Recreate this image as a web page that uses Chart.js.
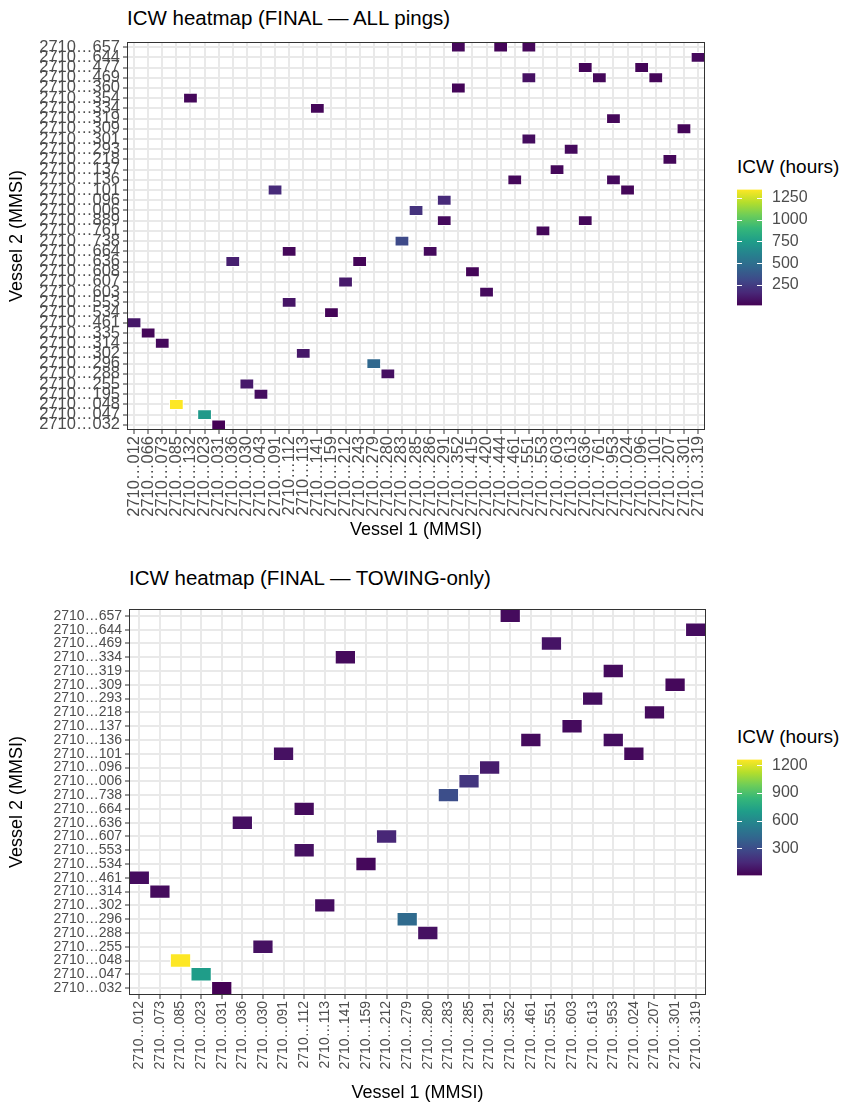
<!DOCTYPE html>
<html>
<head>
<meta charset="utf-8">
<script src="https://cdn.jsdelivr.net/npm/chart.js@4.4.1/dist/chart.umd.min.js"></script>
<style>
  html, body { margin: 0; padding: 0; background: #fff; }
  #page { position: relative; width: 848px; height: 1110px; font-family: 'Liberation Sans', Arial, sans-serif; }
  canvas { position: absolute; }
  .ttl { position: absolute; font-size: 20.5px; line-height: 24px; color: #000; white-space: nowrap; }
  .leg { position: absolute; font-size: 19px; line-height: 24px; color: #000; white-space: nowrap; }
</style>
</head>
<body>
<div id="page">
  <div class="ttl" style="left:127px; top:6px">ICW heatmap (FINAL — ALL pings)</div>
  <canvas id="heat-all" width="720" height="550" style="left:0; top:0"></canvas>
  <div class="leg" style="left:737px; top:155px">ICW (hours)</div>
  <canvas id="bar-all" width="120" height="155" style="left:728px; top:170px"></canvas>

  <div class="ttl" style="left:129px; top:566px">ICW heatmap (FINAL — TOWING-only)</div>
  <canvas id="heat-tow" width="720" height="550" style="left:0; top:560px"></canvas>
  <div class="leg" style="left:737px; top:725px">ICW (hours)</div>
  <canvas id="bar-tow" width="120" height="155" style="left:728px; top:740px"></canvas>
</div>
<script>
'use strict';

var PREFIX = '2710…';

// ALL pings: vessel 1 columns, vessel 2 rows (bottom -> top)
const allCols = ['012', '066', '073', '085', '132', '023', '031', '036', '030', '043', '091', '112', '113', '141',
  '159', '212', '243', '279', '280', '283', '285', '286', '291', '352', '415', '420', '444', '461', '551', '553',
  '603', '613', '636', '761', '953', '024', '096', '101', '207', '301', '319'];
const allRows = ['032', '047', '048', '195', '255', '288', '296', '302', '314', '335', '461', '534', '553', '603',
  '607', '608', '636', '664', '738', '761', '889', '006', '096', '101', '136', '137', '218', '293', '301', '309',
  '319', '334', '354', '360', '469', '477', '644', '657'];
const allX = ['352', '444', '551', '319', '636', '096', '551', '761', '101', '352', '132', '141', '953', '301', '551',
  '613', '207', '603', '461', '953', '091', '024', '291', '285', '291', '636', '553', '283', '112', '286', '036',
  '243', '415', '212', '420', '112', '159', '012', '066', '073', '113', '279', '280', '030', '043', '085', '023', '031'];
const allY = ['657', '657', '657', '644', '477', '477', '469', '469', '469', '360', '354', '334', '319', '309', '301',
  '293', '218', '137', '136', '136', '101', '101', '096', '006', '889', '889', '761', '738', '664', '664', '636',
  '636', '608', '607', '603', '553', '534', '461', '335', '314', '302', '296', '288', '255', '195', '048', '047', '032'];
const allIcw = [40, 30, 35, 45, 30, 30, 75, 40, 35, 30, 40, 35, 40, 30, 60, 50, 40, 40, 40, 50, 170, 35, 170, 210,
  50, 40, 40, 310, 40, 50, 130, 30, 30, 110, 50, 90, 30, 100, 35, 45, 100, 460, 70, 110, 60, 1347, 730, 14];
const allLegendTicks = [250, 500, 750, 1000, 1250];

// TOWING-only
const towCols = ['012', '073', '085', '023', '031', '036', '030', '091', '112', '113', '141', '159', '212', '279',
  '280', '283', '285', '291', '352', '461', '551', '603', '613', '953', '024', '207', '301', '319'];
const towRows = ['032', '047', '048', '255', '288', '296', '302', '314', '461', '534', '553', '607', '636', '664',
  '738', '006', '096', '101', '136', '137', '218', '293', '309', '319', '334', '469', '644', '657'];
const towX = ['352', '319', '551', '141', '953', '301', '613', '207', '603', '461', '953', '091', '024', '291', '285',
  '283', '112', '036', '212', '112', '159', '012', '073', '113', '279', '280', '030', '085', '023', '031'];
const towY = ['657', '644', '469', '334', '319', '309', '293', '218', '137', '136', '136', '101', '101', '096', '006',
  '738', '664', '636', '607', '553', '534', '461', '314', '302', '296', '288', '255', '048', '047', '032'];
const towIcw = [40, 45, 70, 35, 40, 30, 50, 40, 40, 40, 50, 60, 35, 100, 200, 300, 40, 55, 140, 60, 30, 45, 40, 50,
  440, 60, 60, 1262, 700, 4];
const towLegendTicks = [300, 600, 900, 1200];

const viridisStops = ['#440154', '#482878', '#3e4a89', '#31688e', '#26828e', '#1f9e89', '#35b779', '#6dcd59',
  '#b4de2c', '#fde725'];

Chart.defaults.font.family = "'Liberation Sans', Arial, Helvetica, sans-serif";

function hexRgb(h) {
  return [parseInt(h.slice(1, 3), 16), parseInt(h.slice(3, 5), 16), parseInt(h.slice(5, 7), 16)];
}

function viridis(t) {
  t = Math.max(0, Math.min(1, t));
  var pos = t * (viridisStops.length - 1);
  var i = Math.min(Math.floor(pos), viridisStops.length - 2);
  var f = pos - i;
  var a = hexRgb(viridisStops[i]), b = hexRgb(viridisStops[i + 1]);
  var c = a.map(function (v, k) { return Math.round(v + (b[k] - v) * f); });
  return 'rgb(' + c.join(',') + ')';
}

// dark frame round the panel
var panelBorder = {
  id: 'panelBorder',
  afterDatasetsDraw: function (chart) {
    var ctx = chart.ctx, a = chart.chartArea;
    ctx.save();
    ctx.strokeStyle = '#333333';
    ctx.lineWidth = 1;
    ctx.strokeRect(Math.round(a.left) + 0.5, Math.round(a.top) + 0.5, Math.round(a.width) - 1, Math.round(a.height) - 1);
    ctx.restore();
  },
};

// short white marks on both edges of the colour bar
var barTicks = {
  id: 'barTicks',
  afterDatasetsDraw: function (chart) {
    var ctx = chart.ctx, a = chart.chartArea, y = chart.scales.y;
    ctx.save();
    ctx.strokeStyle = '#ffffff';
    ctx.lineWidth = 1;
    y.ticks.forEach(function (t) {
      var py = Math.round(y.getPixelForValue(t.value)) + 0.5;
      ctx.beginPath();
      ctx.moveTo(a.left, py);
      ctx.lineTo(a.left + 5, py);
      ctx.moveTo(a.right - 5, py);
      ctx.lineTo(a.right, py);
      ctx.stroke();
    });
    ctx.restore();
  },
};

function heatmap(id, cols, rows, xs, ys, hours, lay) {
  var lo = Math.min.apply(null, hours), hi = Math.max.apply(null, hours);
  var cells = xs.map(function (c, i) {
    var r = rows.indexOf(ys[i]);
    return { x: PREFIX + c, y: [r - 0.5, r + 0.5], v: hours[i] };
  });
  var grid = { offset: false, color: '#e9e9e9', lineWidth: 2, tickColor: '#333333', tickWidth: 1, tickLength: 4 };
  return new Chart(document.getElementById(id), {
    type: 'bar',
    data: {
      labels: cols.map(function (c) { return PREFIX + c; }),
      datasets: [{
        data: cells,
        grouped: false,
        barPercentage: 1,
        categoryPercentage: 1,
        borderWidth: 1,
        borderColor: '#ffffff',
        borderSkipped: false,
        backgroundColor: function (ctx) {
          return ctx.raw ? viridis((ctx.raw.v - lo) / (hi - lo)) : viridisStops[0];
        },
      }],
    },
    options: {
      responsive: false,
      animation: false,
      layout: { padding: lay.padding },
      plugins: { legend: { display: false }, tooltip: { enabled: false } },
      scales: {
        x: {
          offset: true,
          grid: grid,
          border: { display: false },
          ticks: { autoSkip: false, minRotation: 90, maxRotation: 90, padding: 2, color: '#4d4d4d', font: { size: lay.tick } },
          title: { display: true, text: 'Vessel 1 (MMSI)', color: '#000', font: { size: 18 }, padding: { top: 0, bottom: lay.xTitlePad } },
          afterFit: function (s) { s.height = lay.xh; },
        },
        y: {
          min: -0.5,
          max: rows.length - 0.5,
          bounds: 'data',
          afterBuildTicks: function (s) { s.ticks = rows.map(function (_, i) { return { value: i }; }); },
          grid: grid,
          border: { display: false },
          ticks: {
            autoSkip: false, padding: 3, color: '#4d4d4d', font: { size: lay.tick },
            callback: function (v) { return PREFIX + rows[v]; },
          },
          title: { display: true, text: 'Vessel 2 (MMSI)', color: '#000', font: { size: 18 }, padding: { top: 6, bottom: 0 } },
          afterFit: function (s) { s.width = lay.yw; },
        },
      },
    },
    plugins: [panelBorder],
  });
}

function colorbar(id, hours, ticks, pad) {
  var lo = Math.min.apply(null, hours), hi = Math.max.apply(null, hours);
  return new Chart(document.getElementById(id), {
    type: 'bar',
    data: {
      labels: ['ICW'],
      datasets: [{
        data: [[lo, hi]],
        barPercentage: 1,
        categoryPercentage: 1,
        borderWidth: 0,
        backgroundColor: function (ctx) {
          var a = ctx.chart.chartArea;
          if (!a) return viridisStops[0];
          var g = ctx.chart.ctx.createLinearGradient(0, a.bottom, 0, a.top);
          viridisStops.forEach(function (c, i) { g.addColorStop(i / (viridisStops.length - 1), c); });
          return g;
        },
      }],
    },
    options: {
      responsive: false,
      animation: false,
      layout: { padding: pad },
      plugins: { legend: { display: false }, tooltip: { enabled: false } },
      scales: {
        x: { display: false },
        y: {
          position: 'right',
          min: lo,
          max: hi,
          bounds: 'data',
          afterBuildTicks: function (s) { s.ticks = ticks.map(function (v) { return { value: v }; }); },
          grid: { display: false, drawTicks: false },
          border: { display: false },
          ticks: { padding: 10, color: '#4d4d4d', font: { size: 16 }, callback: function (v) { return String(v); } },
          afterFit: function (s) { s.width = 86; },
        },
      },
    },
    plugins: [barTicks],
  });
}

heatmap('heat-all', allCols, allRows, allX, allY, allIcw,
  { padding: { top: 42, right: 12, bottom: 0, left: 0 }, yw: 127, xh: 120, tick: 16.5, xTitlePad: 9 });
colorbar('bar-all', allIcw, allLegendTicks, { top: 18, right: 0, bottom: 13, left: 9 });

heatmap('heat-tow', towCols, towRows, towX, towY, towIcw,
  { padding: { top: 49, right: 14, bottom: 0, left: 0 }, yw: 129, xh: 115, tick: 14, xTitlePad: 6 });
colorbar('bar-tow', towIcw, towLegendTicks, { top: 15, right: 0, bottom: 17, left: 9 });
</script>
</body>
</html>
